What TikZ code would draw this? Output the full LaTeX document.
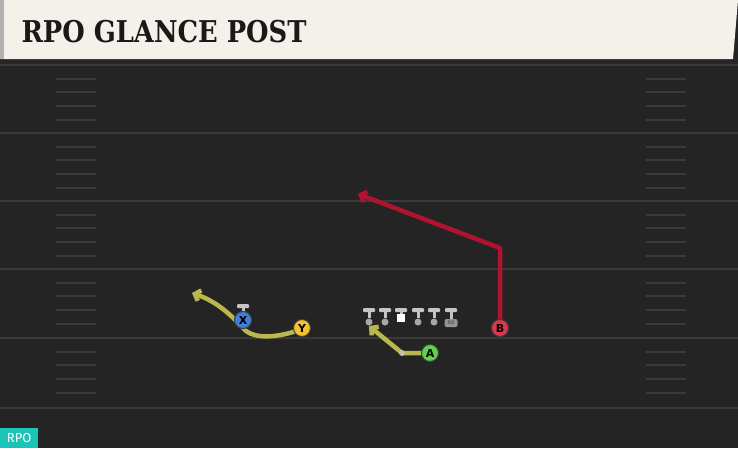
\documentclass[tikz,border=0pt]{standalone}
\usepackage{fontspec}
\usepackage{graphicx}
\usetikzlibrary{arrows.meta}
\newfontfamily\titrefont{DejaVu Serif}
\newfontfamily\lettrefont{DejaVu Sans}
\newfontfamily\badgefont{Fira Sans}
\definecolor{terrain}{HTML}{242424}
\definecolor{creme}{HTML}{F4F1EA}
\definecolor{ligneclr}{HTML}{3A3A3A}
\definecolor{bleu}{HTML}{3F7FDB}
\definecolor{jaune}{HTML}{F2C230}
\definecolor{vert}{HTML}{5ED24A}
\definecolor{rouge}{HTML}{E0344A}
\definecolor{olive}{HTML}{B8B84C}
\definecolor{bordeaux}{HTML}{B01230}
\definecolor{turquoise}{HTML}{1CC4B8}
\definecolor{gris}{HTML}{C4C4C4}

\begin{document}
\begin{tikzpicture}[x=1pt,y=-1pt]
\tikzstyle{trajet}=[-{Straight Barb[length=5pt,width=11pt]},line width=4.5pt,line join=round]
\tikzstyle{ligne}=[ligneclr,line width=2pt]
\tikzstyle{repere}=[ligneclr,line width=2pt]
\tikzset{joueur/.style={circle,draw=black!75,line width=1pt,fill=#1,inner sep=0pt,minimum size=17pt,
  font=\lettrefont\bfseries\fontsize{11}{11}\selectfont},
joueur/.default={white}}
\tikzset{barre/.style={rectangle,rounded corners=1pt,fill=gris,inner sep=0pt,minimum width=12pt,minimum height=4pt},
pied/.style={circle,fill=gris!85!black,inner sep=0pt,minimum size=7pt}}

\useasboundingbox (0,0) rectangle (738,448);
\fill[terrain] (0,0) rectangle (738,448);
\fill[black!85] (0,59) rectangle (738,64);

% lignes du terrain
\foreach \y in {65,133,201,269,338,408}
  \draw[ligne] (0,\y) -- (738,\y);
\foreach \y in {65,133,201,269,338}
  \foreach \d in {14,27,41,55} {
    \draw[repere] (56,\y+\d) -- (96,\y+\d);
    \draw[repere] (646,\y+\d) -- (686,\y+\d);
  }

% bandeau
\fill[creme] (0,0) -- (738,0) -- (733,59) -- (0,59) -- cycle;
\fill[gray!60] (0,0) rectangle (4,59);
\node[anchor=west,text=black!90,font=\titrefont\bfseries\fontsize{30}{30}\selectfont] (titre) at (18,32)
  {\scalebox{0.86}[1]{RPO GLANCE POST}};

% ligne offensive
\node[barre] (t1) at (369,310) {};\node[pied] (p1) at (369,322) {};
\node[barre] (t2) at (385,310) {};\node[pied] (p2) at (385,322) {};
\node[barre] (t3) at (401,310) {};\node[rectangle,fill=white,inner sep=0pt,minimum size=8pt] (p3) at (401,318) {};
\node[barre] (t4) at (418,310) {};\node[pied] (p4) at (418,322) {};
\node[barre] (t5) at (434,310) {};\node[pied] (p5) at (434,322) {};
\node[barre] (t6) at (451,310) {};
\node[rectangle,rounded corners=2pt,fill=gris!75!black,inner sep=1pt,minimum width=13pt,minimum height=8pt,
  font=\lettrefont\fontsize{5}{5}\selectfont,text=black!70] (rb) at (451,323) {RB};
\foreach \i in {1,2,3,4,5}
  \draw[gris,line width=3pt] (t\i) -- (p\i);
\draw[gris,line width=3pt] (t6) -- (rb);
\node[barre] (tx) at (243,306) {};

% trajets
\coordinate (y1) at (246,331);
\coordinate (y2) at (192,293);
\draw[trajet,olive] (302,329) .. controls (275,339) and (255,338) .. (y1) .. controls (232,316) and (218,302) .. (y2);
\coordinate (a1) at (402,353);
\coordinate (a2) at (369,326);
\draw[trajet,olive] (430,353) -- (a1) -- (a2);
\fill[gris!80!olive] (a1) circle (3pt);
\coordinate (b1) at (500,248);
\coordinate (b2) at (358,194);
\draw[trajet,bordeaux] (500,328) -- (b1) -- (b2);

% joueurs
\node[joueur=bleu] (X) at (243,320) {X};
\draw[gris,line width=3pt] (tx) -- (X);
\node[joueur=bleu] at (243,320) {X};
\node[joueur=jaune] (Y) at (302,328) {Y};
\node[joueur=vert] (A) at (430,353) {A};
\node[joueur=rouge] (B) at (500,328) {B};

% badge
\node[anchor=south west,fill=turquoise,text=white,inner sep=2pt,minimum height=20pt,minimum width=38pt,
  font=\badgefont\fontsize{13}{13}\selectfont] (rpo) at (0,448) {RPO};
\end{tikzpicture}
\end{document}
